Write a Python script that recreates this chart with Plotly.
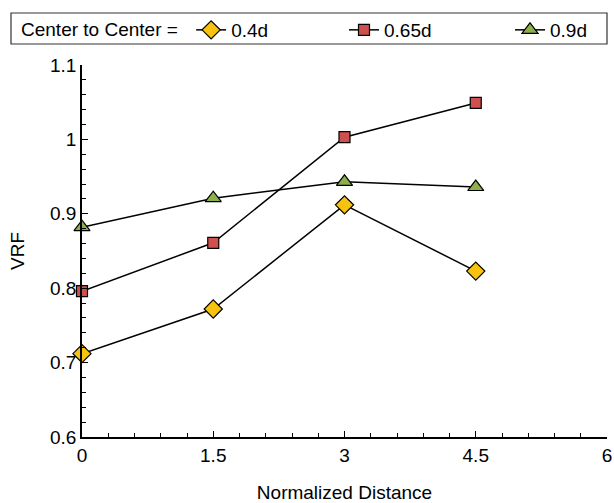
import plotly.graph_objects as go

x_vals = [0, 1.5, 3, 4.5]
vrf_04d = [0.712, 0.772, 0.912, 0.823]
vrf_065d = [0.796, 0.861, 1.003, 1.049]
vrf_09d = [0.882, 0.921, 0.943, 0.936]
series_names = ["0.4d", "0.65d", "0.9d"]
x_ticks = [0, 1.5, 3, 4.5, 6]
x_ticklabels = ["0", "1.5", "3", "4.5", "6"]
y_ticks = [0.6, 0.7, 0.8, 0.9, 1.0, 1.1]
y_ticklabels = ["0.6", "0.7", "0.8", "0.9", "1", "1.1"]

W, H = 614, 503
L, R, T, B = 82, 7, 65, 66
pw = W - L - R
ph = H - T - B
FS = 19

styles = [
    dict(symbol="diamond", color="#F7C30F", size=14),
    dict(symbol="square", color="#D0504D", size=11),
    dict(symbol="triangle-up", color="#8DB04B", size=14),
]
legend_ids = ["legend", "legend2", "legend3"]

fig = go.Figure()
for name, ys, st, lg in zip(series_names, [vrf_04d, vrf_065d, vrf_09d], styles, legend_ids):
    fig.add_trace(go.Scatter(
        x=x_vals, y=ys, name=name, mode="lines+markers",
        line=dict(color="black", width=1.5),
        marker=dict(symbol=st["symbol"], color=st["color"], size=st["size"],
                    line=dict(color="black", width=1.2)),
        cliponaxis=False, legend=lg,
    ))

def px2paper_x(p):
    return (p - L) / pw

def px2paper_y(p):
    return 1 - (p - T) / ph

fig.add_shape(type="rect", xref="paper", yref="paper",
              x0=px2paper_x(11), x1=px2paper_x(607),
              y0=px2paper_y(44), y1=px2paper_y(13),
              line=dict(color="#333333", width=1.2), fillcolor="rgba(0,0,0,0)")

def legend_cfg(xpx, title=None):
    cfg = dict(
        orientation="h", xref="container", yref="container",
        x=xpx / W, y=1 - 11 / H, xanchor="left", yanchor="top",
        font=dict(size=FS), bgcolor="rgba(0,0,0,0)", borderwidth=0,
        itemclick=False, itemdoubleclick=False,
    )
    if title:
        cfg["title"] = dict(text=title, side="left", font=dict(size=FS))
    return cfg

fig.update_layout(
    width=W, height=H,
    margin=dict(l=L, r=R, t=T, b=B, autoexpand=False),
    paper_bgcolor="white", plot_bgcolor="white",
    font=dict(family="Liberation Sans, Arial, sans-serif", size=FS, color="black"),
    showlegend=True,
    legend=legend_cfg(19, "Center to Center = "),
    legend2=legend_cfg(344),
    legend3=legend_cfg(510),
    xaxis=dict(
        range=[0, 6], tickvals=x_ticks, ticktext=x_ticklabels,
        ticks="inside", ticklen=6, tickwidth=1.2, tickcolor="black",
        minor=dict(ticks="inside", dtick=0.3, ticklen=4, tickwidth=1, tickcolor="black"),
        showline=True, linecolor="black", linewidth=1.5, showgrid=False, zeroline=False,
        title=dict(text="Normalized Distance", standoff=22, font=dict(size=FS)),
        tickfont=dict(size=FS), ticklabelstandoff=0, automargin=False,
    ),
    yaxis=dict(
        range=[0.6, 1.1], tickvals=y_ticks, ticktext=y_ticklabels,
        ticks="inside", ticklen=6, tickwidth=1.2, tickcolor="black",
        minor=dict(ticks="inside", dtick=0.02, ticklen=4, tickwidth=1, tickcolor="black"),
        showline=True, linecolor="black", linewidth=1.5, showgrid=False, zeroline=False,
        title=dict(text="VRF", standoff=20, font=dict(size=FS)),
        tickfont=dict(size=FS), ticklabelstandoff=0, automargin=False,
    ),
)

fig.write_html("out.html")
